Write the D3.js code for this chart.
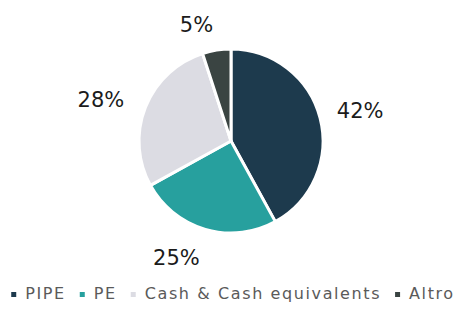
<!DOCTYPE html>
<html>
<head>
<meta charset="utf-8">
<script src="https://cdn.jsdelivr.net/npm/d3@7"></script>
<style>
	body { margin: 0; background: #fff; }
	svg { display: block; }
</style>
</head>
<body>
<svg class="chart" width="457" height="309"></svg>
<script>

var categories = ["PIPE", "PE", "Cash & Cash equivalents", "Altro"];
var values = [42, 25, 28, 5];
var colors = ["#1d3a4d", "#27a09e", "#dcdce3", "#3a4442"];

var svgWidth = 457;
var svgHeight = 309;
var cx = 231;
var cy = 141;
var radius = 92;
var labelGap = 16;
// small hand nudges for the label boxes, like the ones dragged in the original
var labelNudge = [[2, 0], [-18, 2], [-8, 3], [-15, 3]];

var svg = d3.select(".chart");

var pie = d3.pie()
	.sort(null)
	.value(function(d){ return d; });

var arcs = pie(values);

var arc = d3.arc()
	.innerRadius(0)
	.outerRadius(radius);

var g = svg.append("g")
	.attr("transform", "translate(" + cx + "," + cy + ")");

g.selectAll("path")
	.data(arcs)
	.enter()
	.append("path")
	.attr("d", arc)
	.style("fill", function(d, i){ return colors[i]; })
	.style("stroke", "#fff")
	.style("stroke-width", 3)
	.style("stroke-linejoin", "round");

// outside-end labels, pushed out by half the text box
var labels = g.selectAll("text")
	.data(arcs)
	.enter()
	.append("text")
	.text(function(d){ return d.value + "%"; })
	.attr("text-anchor", "middle")
	.attr("dominant-baseline", "central")
	.style("font-family", "DejaVu Sans")
	.style("font-size", "21px")
	.style("fill", "#1b1b1b");

labels.each(function(d, i){
	var a = (d.startAngle + d.endAngle) / 2;
	var box = this.getBBox();
	var r = radius + labelGap;
	var x = Math.sin(a) * (r + box.width / 2) + labelNudge[i][0];
	var y = -Math.cos(a) * (r + box.height / 2) + labelNudge[i][1];
	d3.select(this).attr("x", x).attr("y", y);
});

// legend
var legend = svg.append("g");
var xpos = 0;
categories.forEach(function(name, i){
	var item = legend.append("g").attr("transform", "translate(" + xpos + ",0)");
	item.append("rect")
		.attr("x", 0)
		.attr("y", -7)
		.attr("width", 5)
		.attr("height", 5)
		.style("fill", colors[i]);
	var t = item.append("text")
		.attr("x", 14)
		.attr("y", 0)
		.text(name)
		.style("font-family", "DejaVu Sans")
		.style("font-size", "16px")
		.style("letter-spacing", "1.6px")
		.style("fill", "#5a5a5a");
	xpos += 14 + t.node().getComputedTextLength() + 14;
});
var lw = xpos - 14;
legend.attr("transform", "translate(" + (cx + 2 - lw / 2) + ",299)");

</script>
</body>
</html>
